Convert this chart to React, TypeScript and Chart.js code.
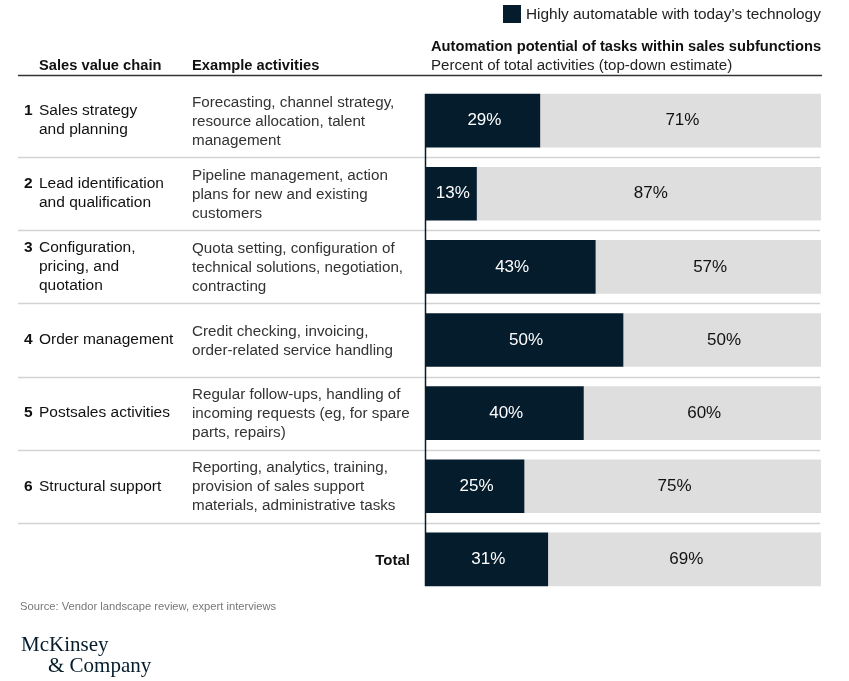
import React, { useEffect, useRef } from "react";
import { Chart, registerables } from "chart.js";

Chart.register(...registerables);

const rowNumbers = ["1", "2", "3", "4", "5", "6", ""];
const chainLabels: string[][] = [
  ["Sales strategy", "and planning"],
  ["Lead identification", "and qualification"],
  ["Configuration,", "pricing, and", "quotation"],
  ["Order management"],
  ["Postsales activities"],
  ["Structural support"],
  ["Total"],
];
const activities: string[][] = [
  ["Forecasting, channel strategy,", "resource allocation, talent", "management"],
  ["Pipeline management, action", "plans for new and existing", "customers"],
  ["Quota setting, configuration of", "technical solutions, negotiation,", "contracting"],
  ["Credit checking, invoicing,", "order-related service handling"],
  ["Regular follow-ups, handling of", "incoming requests (eg, for spare", "parts, repairs)"],
  ["Reporting, analytics, training,", "provision of sales support", "materials, administrative tasks"],
  [],
];
const categories = ["Sales strategy and planning", "Lead identification and qualification", "Configuration, pricing, and quotation", "Order management", "Postsales activities", "Structural support", "Total"];
const automatable = [29, 13, 43, 50, 40, 25, 31];
const notAutomatable = [71, 87, 57, 50, 60, 75, 69];

const seriesNames = ["Highly automatable with today\u2019s technology", "Other"];
const titleText = "Automation potential of tasks within sales subfunctions";
const subtitleText = "Percent of total activities (top-down estimate)";
const colHeaders = ["Sales value chain", "Example activities"];
const sourceText = "Source: Vendor landscape review, expert interviews";

const NAVY = "#051c2c";
const GREY = "#dedede";
const FONT = "'Liberation Sans', Arial, sans-serif";

const overlay = {
  id: "overlay",
  beforeDatasetsDraw(chart: any) {
    const ctx = chart.ctx;
    const yScale = chart.scales.y;
    const meta0 = chart.getDatasetMeta(0);
    ctx.save();
    const step = yScale.getPixelForValue(1) - yScale.getPixelForValue(0);
    ctx.strokeStyle = "#d2d2d2";
    ctx.lineWidth = 1.5;
    for (let i = 0; i < categories.length - 1; i++) {
      const y = Math.round(yScale.getPixelForValue(i) + step / 2) + 0.5;
      ctx.beginPath();
      ctx.moveTo(18, y);
      ctx.lineTo(820, y);
      ctx.stroke();
    }
    ctx.strokeStyle = "#333";
    ctx.lineWidth = 1.5;
    ctx.beginPath();
    ctx.moveTo(18, 75.5);
    ctx.lineTo(822, 75.5);
    ctx.stroke();
    const first = meta0.data[0];
    const last = meta0.data[meta0.data.length - 1];
    const x0 = chart.scales.x.getPixelForValue(0);
    ctx.strokeStyle = NAVY;
    ctx.lineWidth = 1.5;
    ctx.beginPath();
    ctx.moveTo(x0 + 0.5, first.y - first.height / 2);
    ctx.lineTo(x0 + 0.5, last.y + last.height / 2);
    ctx.stroke();
    ctx.restore();
  },
  afterDatasetsDraw(chart: any) {
    const ctx = chart.ctx;
    const yScale = chart.scales.y;
    ctx.save();
    ctx.textBaseline = "middle";
    chart.data.datasets.forEach((ds: any, di: number) => {
      const meta = chart.getDatasetMeta(di);
      meta.data.forEach((el: any, j: number) => {
        const cx = (el.x + el.base) / 2 + 2;
        ctx.font = `17px ${FONT}`;
        ctx.textAlign = "center";
        ctx.fillStyle = di === 0 ? "#ffffff" : "#111";
        ctx.fillText(`${ds.data[j]}%`, cx, el.y);
      });
    });
    const lh = 19;
    const body = `15.2px ${FONT}`;
    for (let i = 0; i < categories.length; i++) {
      const cy = yScale.getPixelForValue(i) + 1;
      const lab = chainLabels[i];
      if (i === categories.length - 1) {
        ctx.font = `bold 15px ${FONT}`;
        ctx.fillStyle = "#111";
        ctx.textAlign = "right";
        ctx.fillText(lab[0], 410, cy);
        continue;
      }
      const top = cy - ((lab.length - 1) * lh) / 2 - 1;
      ctx.textAlign = "left";
      ctx.font = `bold 15.5px ${FONT}`;
      ctx.fillStyle = "#111";
      ctx.fillText(rowNumbers[i], 24, top);
      ctx.font = `15.5px ${FONT}`;
      lab.forEach((t, k) => ctx.fillText(t, 39, top + k * lh));
      const act = activities[i];
      const atop = cy - ((act.length - 1) * lh) / 2;
      ctx.font = body;
      ctx.fillStyle = "#333";
      act.forEach((t, k) => ctx.fillText(t, 192, atop + k * lh));
    }
    ctx.fillStyle = "#111";
    ctx.font = `bold 14.7px ${FONT}`;
    ctx.textAlign = "left";
    ctx.fillText(colHeaders[0], 39, 65.5);
    ctx.fillText(colHeaders[1], 192, 65.5);
    ctx.fillText(titleText, 431, 47);
    ctx.font = `15.1px ${FONT}`;
    ctx.fillStyle = "#222";
    ctx.fillText(subtitleText, 431, 66);
    ctx.fillStyle = NAVY;
    ctx.fillRect(503, 5, 18, 18);
    ctx.fillStyle = "#222";
    ctx.font = `15.4px ${FONT}`;
    ctx.fillText(seriesNames[0], 526, 14.5);
    ctx.fillStyle = "#777";
    ctx.font = `11.2px ${FONT}`;
    ctx.fillText(sourceText, 20, 606.5);
    ctx.fillStyle = NAVY;
    ctx.font = `21px 'Liberation Serif', 'Times New Roman', serif`;
    ctx.fillText("McKinsey", 21, 645);
    ctx.fillText("& Company", 48, 666);
    ctx.restore();
  },
};

export default function App() {
  const ref = useRef<HTMLCanvasElement>(null);
  useEffect(() => {
    if (!ref.current) return;
    const chart = new Chart(ref.current, {
      type: "bar",
      data: {
        labels: categories,
        datasets: [
          { label: seriesNames[0], data: automatable, backgroundColor: NAVY, barThickness: 53 },
          { label: seriesNames[1], data: notAutomatable, backgroundColor: GREY, barThickness: 53 },
        ],
      },
      options: {
        indexAxis: "y",
        responsive: false,
        animation: false,
        layout: { padding: { left: 425, right: 28, top: 84, bottom: 85 } },
        plugins: { legend: { display: false }, tooltip: { enabled: false } },
        scales: {
          x: { stacked: true, min: 0, max: 100, display: false },
          y: { stacked: true, display: false },
        },
      },
      plugins: [overlay],
    });
    return () => chart.destroy();
  }, []);
  return (
    <div style={{ position: "absolute", left: 0, top: 0, width: 849, height: 681, background: "#fff" }}>
      <canvas ref={ref} width={849} height={681} style={{ width: 849, height: 681 }} />
    </div>
  );
}
